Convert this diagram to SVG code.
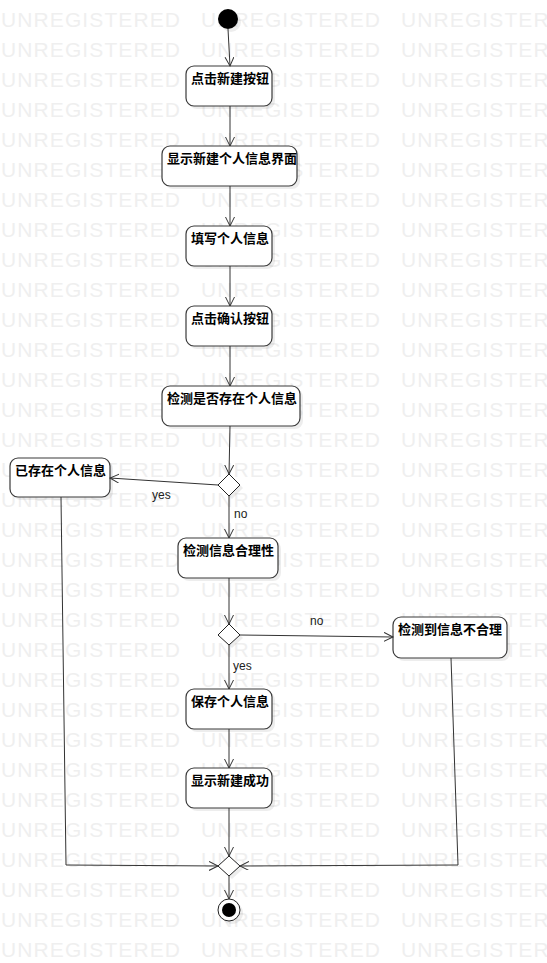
<svg xmlns="http://www.w3.org/2000/svg" width="547" height="963" viewBox="0 0 547 963">
<defs>
<style>
.wm{font-family:"Liberation Sans",Arial,sans-serif;font-size:21px;letter-spacing:1.1px;fill:#efefef}
.box{fill:#ffffff;stroke:#3a3a3a;stroke-width:1.2}
.sh{fill:#000;opacity:0.07}
.lbl{font-family:"Noto Sans CJK SC","Noto Sans",sans-serif;font-size:13px;font-weight:bold;fill:#000}
.txt{font-family:"Liberation Sans",Arial,sans-serif;font-size:12px;fill:#222}
.ln{fill:none;stroke:#333;stroke-width:1}
.dia{fill:#fff;stroke:#222;stroke-width:1}
</style>
<marker id="arr" markerWidth="12" markerHeight="12" refX="9" refY="4.5" orient="auto" markerUnits="userSpaceOnUse">
<path d="M0,0 L9,4.5 L0,9" fill="none" stroke="#333" stroke-width="1"/>
</marker>
</defs>
<rect width="547" height="963" fill="#ffffff"/>
<g id="watermark" class="wm">
<text y="27"><tspan x="1">UNREGISTERED</tspan><tspan x="201">UNREGISTERED</tspan><tspan x="401">UNREGISTERED</tspan></text>
<text y="57"><tspan x="1">UNREGISTERED</tspan><tspan x="201">UNREGISTERED</tspan><tspan x="401">UNREGISTERED</tspan></text>
<text y="87"><tspan x="1">UNREGISTERED</tspan><tspan x="201">UNREGISTERED</tspan><tspan x="401">UNREGISTERED</tspan></text>
<text y="117"><tspan x="1">UNREGISTERED</tspan><tspan x="201">UNREGISTERED</tspan><tspan x="401">UNREGISTERED</tspan></text>
<text y="147"><tspan x="1">UNREGISTERED</tspan><tspan x="201">UNREGISTERED</tspan><tspan x="401">UNREGISTERED</tspan></text>
<text y="177"><tspan x="1">UNREGISTERED</tspan><tspan x="201">UNREGISTERED</tspan><tspan x="401">UNREGISTERED</tspan></text>
<text y="207"><tspan x="1">UNREGISTERED</tspan><tspan x="201">UNREGISTERED</tspan><tspan x="401">UNREGISTERED</tspan></text>
<text y="237"><tspan x="1">UNREGISTERED</tspan><tspan x="201">UNREGISTERED</tspan><tspan x="401">UNREGISTERED</tspan></text>
<text y="267"><tspan x="1">UNREGISTERED</tspan><tspan x="201">UNREGISTERED</tspan><tspan x="401">UNREGISTERED</tspan></text>
<text y="297"><tspan x="1">UNREGISTERED</tspan><tspan x="201">UNREGISTERED</tspan><tspan x="401">UNREGISTERED</tspan></text>
<text y="327"><tspan x="1">UNREGISTERED</tspan><tspan x="201">UNREGISTERED</tspan><tspan x="401">UNREGISTERED</tspan></text>
<text y="357"><tspan x="1">UNREGISTERED</tspan><tspan x="201">UNREGISTERED</tspan><tspan x="401">UNREGISTERED</tspan></text>
<text y="387"><tspan x="1">UNREGISTERED</tspan><tspan x="201">UNREGISTERED</tspan><tspan x="401">UNREGISTERED</tspan></text>
<text y="417"><tspan x="1">UNREGISTERED</tspan><tspan x="201">UNREGISTERED</tspan><tspan x="401">UNREGISTERED</tspan></text>
<text y="447"><tspan x="1">UNREGISTERED</tspan><tspan x="201">UNREGISTERED</tspan><tspan x="401">UNREGISTERED</tspan></text>
<text y="477"><tspan x="1">UNREGISTERED</tspan><tspan x="201">UNREGISTERED</tspan><tspan x="401">UNREGISTERED</tspan></text>
<text y="507"><tspan x="1">UNREGISTERED</tspan><tspan x="201">UNREGISTERED</tspan><tspan x="401">UNREGISTERED</tspan></text>
<text y="537"><tspan x="1">UNREGISTERED</tspan><tspan x="201">UNREGISTERED</tspan><tspan x="401">UNREGISTERED</tspan></text>
<text y="567"><tspan x="1">UNREGISTERED</tspan><tspan x="201">UNREGISTERED</tspan><tspan x="401">UNREGISTERED</tspan></text>
<text y="597"><tspan x="1">UNREGISTERED</tspan><tspan x="201">UNREGISTERED</tspan><tspan x="401">UNREGISTERED</tspan></text>
<text y="627"><tspan x="1">UNREGISTERED</tspan><tspan x="201">UNREGISTERED</tspan><tspan x="401">UNREGISTERED</tspan></text>
<text y="657"><tspan x="1">UNREGISTERED</tspan><tspan x="201">UNREGISTERED</tspan><tspan x="401">UNREGISTERED</tspan></text>
<text y="687"><tspan x="1">UNREGISTERED</tspan><tspan x="201">UNREGISTERED</tspan><tspan x="401">UNREGISTERED</tspan></text>
<text y="717"><tspan x="1">UNREGISTERED</tspan><tspan x="201">UNREGISTERED</tspan><tspan x="401">UNREGISTERED</tspan></text>
<text y="747"><tspan x="1">UNREGISTERED</tspan><tspan x="201">UNREGISTERED</tspan><tspan x="401">UNREGISTERED</tspan></text>
<text y="777"><tspan x="1">UNREGISTERED</tspan><tspan x="201">UNREGISTERED</tspan><tspan x="401">UNREGISTERED</tspan></text>
<text y="807"><tspan x="1">UNREGISTERED</tspan><tspan x="201">UNREGISTERED</tspan><tspan x="401">UNREGISTERED</tspan></text>
<text y="837"><tspan x="1">UNREGISTERED</tspan><tspan x="201">UNREGISTERED</tspan><tspan x="401">UNREGISTERED</tspan></text>
<text y="867"><tspan x="1">UNREGISTERED</tspan><tspan x="201">UNREGISTERED</tspan><tspan x="401">UNREGISTERED</tspan></text>
<text y="897"><tspan x="1">UNREGISTERED</tspan><tspan x="201">UNREGISTERED</tspan><tspan x="401">UNREGISTERED</tspan></text>
<text y="927"><tspan x="1">UNREGISTERED</tspan><tspan x="201">UNREGISTERED</tspan><tspan x="401">UNREGISTERED</tspan></text>
<text y="957"><tspan x="1">UNREGISTERED</tspan><tspan x="201">UNREGISTERED</tspan><tspan x="401">UNREGISTERED</tspan></text>
</g>

<g id="start"><circle cx="231" cy="22" r="10" class="sh"/><circle cx="228" cy="19" r="10" fill="#000"/></g>

<g id="n1"><rect x="189" y="69" width="86" height="40" rx="8" class="sh"/><rect x="186" y="66" width="86" height="40" rx="8" class="box"/><text x="191" y="83" class="lbl">点击新建按钮</text></g>
<g id="n2"><rect x="165" y="149" width="135" height="40" rx="8" class="sh"/><rect x="162" y="146" width="135" height="40" rx="8" class="box"/><text x="167" y="163" class="lbl">显示新建个人信息界面</text></g>
<g id="n3"><rect x="189" y="229" width="86" height="40" rx="8" class="sh"/><rect x="186" y="226" width="86" height="40" rx="8" class="box"/><text x="191" y="243" class="lbl">填写个人信息</text></g>
<g id="n4"><rect x="189" y="309" width="86" height="40" rx="8" class="sh"/><rect x="186" y="306" width="86" height="40" rx="8" class="box"/><text x="191" y="323" class="lbl">点击确认按钮</text></g>
<g id="n5"><rect x="165" y="389" width="138" height="40" rx="8" class="sh"/><rect x="162" y="386" width="138" height="40" rx="8" class="box"/><text x="167" y="403" class="lbl">检测是否存在个人信息</text></g>
<g id="n6"><rect x="13" y="461" width="100" height="39" rx="8" class="sh"/><rect x="10" y="458" width="100" height="39" rx="8" class="box"/><text x="15" y="475" class="lbl">已存在个人信息</text></g>
<g id="n7"><rect x="181" y="541" width="100" height="40" rx="8" class="sh"/><rect x="178" y="538" width="100" height="40" rx="8" class="box"/><text x="183" y="555" class="lbl">检测信息合理性</text></g>
<g id="n8"><rect x="396" y="620" width="114" height="41" rx="8" class="sh"/><rect x="393" y="617" width="114" height="41" rx="8" class="box"/><text x="398" y="634" class="lbl">检测到信息不合理</text></g>
<g id="n9"><rect x="189" y="692" width="86" height="40" rx="8" class="sh"/><rect x="186" y="689" width="86" height="40" rx="8" class="box"/><text x="191" y="706" class="lbl">保存个人信息</text></g>
<g id="n10"><rect x="189" y="771" width="86" height="40" rx="8" class="sh"/><rect x="186" y="768" width="86" height="40" rx="8" class="box"/><text x="191" y="785" class="lbl">显示新建成功</text></g>

<g id="d1"><polygon points="232,477 243,488 232,499 221,488" class="sh"/><polygon points="229,474 240,485 229,496 218,485" class="dia"/></g>
<g id="d2"><polygon points="232,627 243,638 232,648 221,638" class="sh"/><polygon points="229,624 240,635 229,645 218,635" class="dia"/></g>
<g id="d3"><polygon points="232,859 243,869 232,879 221,869" class="sh"/><polygon points="229,856 240,866 229,876 218,866" class="dia"/></g>

<g id="end"><circle cx="232" cy="913" r="11" class="sh"/><circle cx="229" cy="910" r="11" fill="#fff" stroke="#222" stroke-width="1"/><circle cx="229" cy="910" r="7" fill="#000"/></g>

<g id="connectors">
<path d="M228,29 L230,66" class="ln" marker-end="url(#arr)"/>
<path d="M230,106 L230,146" class="ln" marker-end="url(#arr)"/>
<path d="M230,186 L230,226" class="ln" marker-end="url(#arr)"/>
<path d="M230,266 L230,306" class="ln" marker-end="url(#arr)"/>
<path d="M230,346 L230,386" class="ln" marker-end="url(#arr)"/>
<path d="M230,426 L229,474" class="ln" marker-end="url(#arr)"/>
<path d="M218,485 L110,478" class="ln" marker-end="url(#arr)"/>
<path d="M229,496 L229,538" class="ln" marker-end="url(#arr)"/>
<path d="M229,578 L229,624" class="ln" marker-end="url(#arr)"/>
<path d="M240,635 L393,637" class="ln" marker-end="url(#arr)"/>
<path d="M229,645 L229,689" class="ln" marker-end="url(#arr)"/>
<path d="M229,729 L229,768" class="ln" marker-end="url(#arr)"/>
<path d="M229,808 L229,856" class="ln" marker-end="url(#arr)"/>
<path d="M61,497 L66,865 L218,866" class="ln" marker-end="url(#arr)"/>
<path d="M451,658 L458,865 L240,866" class="ln" marker-end="url(#arr)"/>
<path d="M229,876 L229,899" class="ln" marker-end="url(#arr)"/>
<text x="152" y="499" class="txt">yes</text>
<text x="234" y="518" class="txt">no</text>
<text x="310" y="625" class="txt">no</text>
<text x="233" y="670" class="txt">yes</text>
</g>
</svg>
